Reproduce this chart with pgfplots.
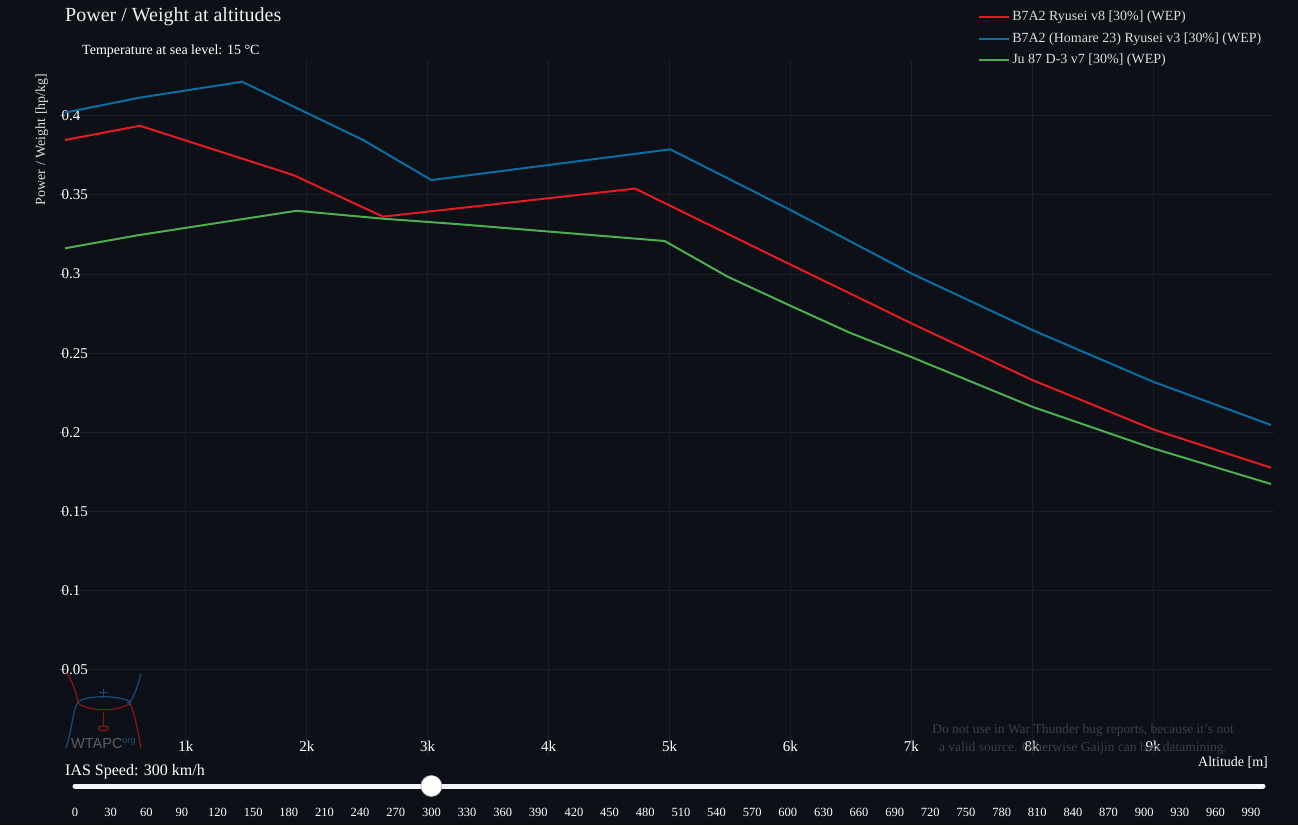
\documentclass[border=0pt]{standalone}
\usepackage{pgfplots}
\pgfplotsset{compat=1.18}
\usepackage{fontspec}
\setmainfont{Liberation Serif}
\newfontfamily\sansf{Liberation Sans}
\definecolor{bg}{HTML}{0D1117}
\definecolor{gridc}{HTML}{1B2027}
\definecolor{tickc}{HTML}{6A6F76}
\definecolor{cred}{HTML}{E31B23}
\definecolor{cblue}{HTML}{0A6EA6}
\definecolor{cgreen}{HTML}{4CAF50}
\definecolor{txt}{HTML}{F0F0F0}
\definecolor{legtxt}{HTML}{DCDCDC}
\definecolor{wm}{HTML}{3B3F46}
\definecolor{logored}{HTML}{8C1419}
\definecolor{logoblue}{HTML}{1A4B78}
\definecolor{logogray}{HTML}{5A5F66}
\definecolor{sliderc}{HTML}{F4F7FB}

\pgfplotstableread{
alt pw
0 0.4020
620 0.4115
1465 0.4215
2466 0.3847
3030 0.3594
5006 0.3788
5990 0.3409
6490 0.3209
7000 0.3004
8000 0.2647
9000 0.2320
9975 0.2047
}\blue

\pgfplotstableread{
alt pw
0 0.3847
620 0.3937
1887 0.3626
2630 0.3363
4716 0.3540
5990 0.3064
6490 0.2879
7000 0.2689
8000 0.2331
9000 0.2019
9975 0.1777
}\red

\pgfplotstableread{
alt pw
0 0.3163
600 0.3245
1915 0.3400
2630 0.3350
3260 0.3315
4960 0.3209
5480 0.2984
6000 0.2800
6490 0.2630
7000 0.2476
8000 0.2162
9000 0.1899
9975 0.1674
}\green

\begin{document}
\begin{tikzpicture}[x=1pt,y=1pt]
\useasboundingbox (0,0) rectangle (1298,825);
\fill[bg] (0,0) rectangle (1298,825);

\begin{axis}[
  at={(65pt,69pt)}, anchor=south west, scale only axis,
  width=1209pt, height=696pt,
  xmin=0, xmax=10000, ymin=-0.00442, ymax=0.43525,
  scaled x ticks=false, scaled y ticks=false,
  axis line style={draw=none},
  grid=major, major grid style={draw=gridc, line width=1pt},
  xtick={1000,2000,3000,4000,5000,6000,7000,8000,9000},
  xticklabels={1k,2k,3k,4k,5k,6k,7k,8k,9k},
  ytick={0.05,0.1,0.15,0.2,0.25,0.3,0.35,0.4},
  yticklabels={0.05,0.1,0.15,0.2,0.25,0.3,0.35,0.4},
  xtick style={draw=none},
  ytick style={draw=tickc, line width=1pt},
  tick align=outside, major tick length=5pt,
  xtick pos=bottom, ytick pos=left,
  xticklabel style={anchor=south, inner sep=0pt, yshift=9pt, text=white, font=\fontsize{15}{18}\selectfont},
  yticklabel style={anchor=west, inner sep=0pt, xshift=1.5pt, text=white, font=\fontsize{15}{18}\selectfont},
  legend style={at={(0.7552,1.074)}, anchor=north west, draw=none, fill=none,
    text=legtxt, font=\fontsize{14}{16}\selectfont, row sep=4.5pt, inner sep=0pt,
    nodes={inner sep=2pt, text height=10pt, text depth=3pt}},
  legend cell align=left,
  legend image code/.code={\draw[#1, line width=2pt] (0pt,0pt) -- (30pt,0pt);},
  clip=false,
]
\addplot[cred, line width=2pt] table[x=alt, y=pw] {\red};
\addlegendentry{B7A2 Ryusei v8 [30\%] (WEP)}
\addplot[cblue, line width=2pt] table[x=alt, y=pw] {\blue};
\addlegendentry{B7A2 (Homare 23) Ryusei v3 [30\%] (WEP)}
\addplot[cgreen, line width=2pt] table[x=alt, y=pw] {\green};
\addlegendentry{Ju 87 D-3 v7 [30\%] (WEP)}
\end{axis}

% slider
\begin{axis}[
  at={(75pt,38pt)}, anchor=south west, scale only axis,
  width=1188pt, height=2pt,
  xmin=0, xmax=1000, ymin=-1, ymax=1,
  scaled x ticks=false,
  axis line style={draw=none}, ytick=\empty,
  xtick={0,30,60,90,120,150,180,210,240,270,300,330,360,390,420,450,480,510,540,570,600,630,660,690,720,750,780,810,840,870,900,930,960,990},
  xticklabels={0,30,60,90,120,150,180,210,240,270,300,330,360,390,420,450,480,510,540,570,600,630,660,690,720,750,780,810,840,870,900,930,960,990},
  xtick style={draw=none},
  xticklabel style={anchor=north, inner sep=0pt, yshift=-21.3pt, text=white, font=\fontsize{12.5}{14}\selectfont},
  clip=false,
]
\addplot[draw=sliderc, line width=5pt, line cap=round] coordinates {(0,0) (1000,0)};
\addplot[only marks, mark=*, mark size=10.5pt, mark options={fill=white, draw=gray!60, line width=0.6pt}] coordinates {(300,0)};
\end{axis}

\begin{scope}[shift={(0,825)}, y=-1pt]
% titles
\node[anchor=base west, inner sep=0pt, text=txt, font=\fontsize{20}{24}\selectfont] at (65,21.7) {Power / Weight at altitudes};
\node[anchor=base west, inner sep=0pt, text=white, font=\fontsize{14}{16}\selectfont] at (82,55) {Temperature at sea level: 15 °C};
\node[anchor=base, rotate=90, inner sep=0pt, text=legtxt, font=\fontsize{14}{16}\selectfont] at (45,139.5) {Power / Weight [hp/kg]};
\node[anchor=base east, inner sep=0pt, text=white, font=\fontsize{14}{16}\selectfont] at (1268,766.7) {Altitude [m]};
\node[anchor=base west, inner sep=0pt, text=white, font=\fontsize{16}{18}\selectfont] at (65,775) {IAS Speed: 300 km/h};
% watermark
\node[anchor=base, inner sep=0pt, text=wm, font=\fontsize{13.5}{16}\selectfont] at (1083,733.3) {Do not use in War Thunder bug reports, because it's not};
\node[anchor=base, inner sep=0pt, text=wm, font=\fontsize{13.5}{16}\selectfont] at (1083,751) {a valid source. Otherwise Gaijin can ban datamining.};
% logo
\draw[logoblue, line width=1.2pt] (66,748.3) .. controls (72,730) and (73,708) .. (78.3,701.7) .. controls (88,695) and (118,695) .. (130,701.7) .. controls (135,695) and (138,685) .. (141,673.3);
\draw[logored, line width=1.2pt] (66.7,673.3) .. controls (72,680) and (76,692) .. (78.3,703.3) .. controls (90,712) and (118,712) .. (130,703.3) .. controls (134,712) and (138,730) .. (141,748.3);
\draw[logoblue, line width=1.2pt] (103.3,689) -- (103.3,697.5) (99,692.5) -- (108,692.5);
\draw[logored, line width=1.2pt] (103.3,711.5) -- (103.3,725);
\draw[logored, line width=1.2pt] (103.3,728.3) ellipse [x radius=5, y radius=2.5];
\draw[logoblue, line width=1pt] (129.3,703) circle [radius=1.7];
\node[anchor=base west, inner sep=0pt, text=logogray, font=\sansf\fontsize{14.5}{16}\selectfont] at (71,748.5) {WTAPC};
\node[anchor=base west, inner sep=0pt, text=logoblue, font=\sansf\fontsize{9}{10}\selectfont] at (122.5,743) {org};
\end{scope}
\end{tikzpicture}
\end{document}
